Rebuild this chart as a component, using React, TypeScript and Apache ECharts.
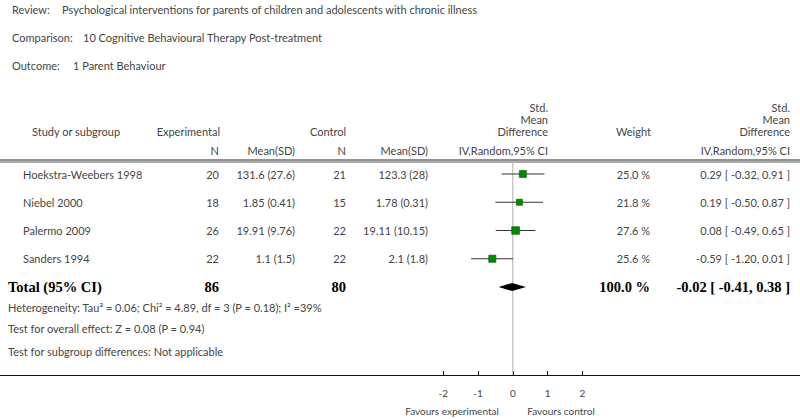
import React, { useEffect, useRef } from "react";
import * as echarts from "echarts";

// ---- data ----
const studies = ["Hoekstra-Weebers 1998", "Niebel 2000", "Palermo 2009", "Sanders 1994"];
const expN = [20, 18, 26, 22];
const expMeanSD = ["131.6 (27.6)", "1.85 (0.41)", "19.91 (9.76)", "1.1 (1.5)"];
const ctlN = [21, 15, 22, 22];
const ctlMeanSD = ["123.3 (28)", "1.78 (0.31)", "19.11 (10.15)", "2.1 (1.8)"];
const smd = [0.29, 0.19, 0.08, -0.59];
const ciLow = [-0.32, -0.5, -0.49, -1.2];
const ciHigh = [0.91, 0.87, 0.65, 0.01];
const weights = [25.0, 21.8, 27.6, 25.6];
const totalSmd = [-0.02];
const totalLow = [-0.41];
const totalHigh = [0.38];
const totalExpN = 86;
const totalCtlN = 80;
const xTicks = [-2, -1, 0, 1, 2];

// ---- layout ----
const FONT = 'Lato, "Open Sans", sans-serif';
const SERIF = '"Liberation Serif", "DejaVu Serif", serif';
const TXT = "#454545";
const COL = { study: 23, expN: 219, expMean: 295, ctlN: 346, ctlMean: 428, smdHead: 548, weight: 650, ci: 790 };
const ROW0 = 174;
const ROWH = 28.25;
const AXIS_Y = 375;
const X0 = 512.8;
const XU = 34.75;

const f2 = (v: number) => v.toFixed(2);
const ciText = (m: number, l: number, h: number) => `${f2(m)} [ ${f2(l)}, ${f2(h)} ]`;

const txt = (text: string, x: number, y: number, align = "left", size = 11, extra: any = {}) => ({
  type: "text",
  x,
  y,
  silent: true,
  style: { text, align, verticalAlign: "middle", font: `${size}px ${FONT}`, fill: TXT, ...extra },
});

export default function App() {
  const ref = useRef<HTMLDivElement>(null);
  useEffect(() => {
    if (!ref.current) return;
    const chart = echarts.init(ref.current, undefined, { renderer: "svg" });
    const yMin = -ROW0 / ROWH;
    const yMax = yMin + AXIS_Y / ROWH;
    const xMin = -X0 / XU;
    const xMax = (800 - X0) / XU;

    const header: any[] = [
      txt("Review:", 12, 9),
      txt("Psychological interventions for parents of children and adolescents with chronic illness", 62, 9),
      txt("Comparison:", 12, 37),
      txt("10 Cognitive Behavioural Therapy Post-treatment", 83, 37),
      txt("Outcome:", 12, 65),
      txt("1 Parent Behaviour", 73, 65),
      txt("Study or subgroup", 32, 131),
      txt("Experimental", 220, 131, "right"),
      txt("Control", 346, 131, "right"),
      txt("N", COL.expN, 150, "right"),
      txt("Mean(SD)", COL.expMean, 150, "right"),
      txt("N", COL.ctlN, 150, "right"),
      txt("Mean(SD)", COL.ctlMean, 150, "right"),
      txt("Std.", COL.smdHead, 107, "right"),
      txt("Mean", COL.smdHead, 119, "right"),
      txt("Difference", COL.smdHead, 131, "right"),
      txt("IV,Random,95% CI", COL.smdHead, 150, "right"),
      txt("Weight", 651, 131, "right"),
      txt("Std.", COL.ci, 107, "right"),
      txt("Mean", COL.ci, 119, "right"),
      txt("Difference", COL.ci, 131, "right"),
      txt("IV,Random,95% CI", COL.ci, 150, "right"),
      { type: "line", silent: true, shape: { x1: 0, y1: 160, x2: 800, y2: 160 }, style: { stroke: "#222", lineWidth: 1 } },
      { type: "line", silent: true, shape: { x1: 0, y1: 162, x2: 800, y2: 162 }, style: { stroke: "#555", lineWidth: 1 } },
      txt("Heterogeneity: Tau\u00B2 = 0.06; Chi\u00B2 = 4.89, df = 3 (P = 0.18); I\u00B2 =39%", 8, 307, "left", 11),
      txt("Test for overall effect: Z = 0.08 (P = 0.94)", 8, 328, "left", 11),
      txt("Test for subgroup differences: Not applicable", 8, 351, "left", 11),
      txt("Favours experimental", 452, 411, "center", 10),
      txt("Favours control", 561, 411, "center", 10),
    ];

    const studyData = studies.map((_, i) => [smd[i], i, ciLow[i], ciHigh[i], weights[i]]);
    const totalRow = studies.length;
    const weightSum = weights.reduce((a, b) => a + b, 0);

    chart.setOption({
      animation: false,
      grid: { left: 0, right: 0, top: 0, height: AXIS_Y, containLabel: false },
      xAxis: {
        type: "value",
        min: xMin,
        max: xMax,
        splitLine: { show: false },
        axisLine: { show: true, onZero: false, lineStyle: { color: "#111", width: 1 } },
        axisTick: { show: true, inside: true, length: 4, customValues: xTicks, lineStyle: { color: "#111" } },
        axisLabel: {
          show: true,
          customValues: xTicks,
          margin: 13,
          fontFamily: FONT,
          fontSize: 10,
          color: TXT,
          formatter: (v: number) => String(v),
        },
      },
      yAxis: { type: "value", inverse: true, min: yMin, max: yMax, show: false },
      graphic: header,
      series: [
        {
          type: "line",
          data: [
            [0, -0.42],
            [0, yMax],
          ],
          symbol: "none",
          lineStyle: { color: "#b0b0b0", width: 1 },
          silent: true,
          z: 1,
        },
        {
          type: "custom",
          data: studyData,
          z: 3,
          renderItem: (params: any, api: any) => {
            const i = params.dataIndex;
            const row = api.value(1);
            const c = api.coord([api.value(0), row]);
            const l = api.coord([api.value(2), row]);
            const h = api.coord([api.value(3), row]);
            const s = api.value(4) * 0.28;
            const y = c[1];
            return {
              type: "group",
              children: [
                txt(studies[i], COL.study, y),
                txt(String(expN[i]), COL.expN, y, "right"),
                txt(expMeanSD[i], COL.expMean, y, "right"),
                txt(String(ctlN[i]), COL.ctlN, y, "right"),
                txt(ctlMeanSD[i], COL.ctlMean, y, "right"),
                txt(`${weights[i].toFixed(1)} %`, COL.weight, y, "right"),
                txt(ciText(smd[i], ciLow[i], ciHigh[i]), COL.ci, y, "right"),
                { type: "line", shape: { x1: l[0], y1: y, x2: h[0], y2: y }, style: { stroke: "#333", lineWidth: 1 } },
                {
                  type: "rect",
                  shape: { x: c[0] - s / 2, y: y - s / 2, width: s, height: s },
                  style: { fill: "#008a00", stroke: "#005a00", lineWidth: 0.6 },
                },
              ],
            };
          },
        },
        {
          type: "custom",
          data: [[totalSmd[0], totalRow, totalLow[0], totalHigh[0]]],
          z: 3,
          renderItem: (params: any, api: any) => {
            const row = api.value(1);
            const c = api.coord([api.value(0), row]);
            const l = api.coord([api.value(2), row]);
            const h = api.coord([api.value(3), row]);
            const y = c[1];
            const bold = (t: string, x: number, align: string) => ({
              type: "text",
              x,
              y,
              style: { text: t, align, verticalAlign: "middle", font: `bold 14.5px ${SERIF}`, fill: "#000" },
            });
            return {
              type: "group",
              children: [
                bold("Total (95% CI)", 8, "left"),
                bold(String(totalExpN), COL.expN, "right"),
                bold(String(totalCtlN), COL.ctlN, "right"),
                bold(`${weightSum.toFixed(1)} %`, COL.weight, "right"),
                bold(ciText(totalSmd[0], totalLow[0], totalHigh[0]), COL.ci, "right"),
                {
                  type: "polygon",
                  shape: {
                    points: [
                      [l[0], y],
                      [c[0], y - 4],
                      [h[0], y],
                      [c[0], y + 4],
                    ],
                  },
                  style: { fill: "#000" },
                },
              ],
            };
          },
        },
      ],
    });
    return () => chart.dispose();
  }, []);
  return <div ref={ref} style={{ position: "absolute", left: 0, top: 0, width: 800, height: 419 }} />;
}
